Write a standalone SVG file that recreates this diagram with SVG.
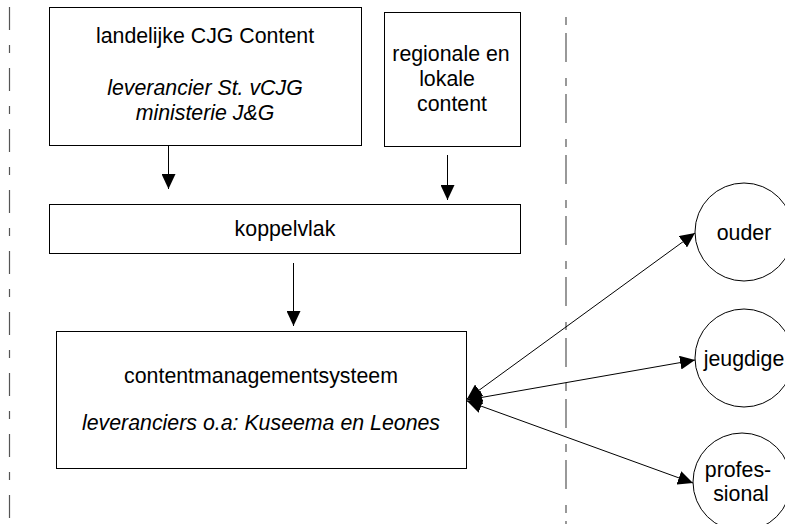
<svg xmlns="http://www.w3.org/2000/svg" width="785" height="524" viewBox="0 0 785 524">
<style>
.box{fill:#fff;stroke:#000;stroke-width:1}
.t{font-family:"Liberation Sans",Arial,sans-serif;font-size:21.33px;fill:#000;text-anchor:middle}
.i{font-style:italic}
.ln{stroke:#000;stroke-width:1;fill:none}
.dash{stroke:#555;stroke-width:1.2;fill:none}
</style>
<defs>
<marker id="ah" markerUnits="userSpaceOnUse" markerWidth="16" markerHeight="14" refX="15" refY="7" orient="auto-start-reverse">
<path d="M0,0 L15,7 L0,14 z" fill="#000"/>
</marker>
</defs>
<rect width="785" height="524" fill="#fff"/>
<g id="separators">
<line class="dash" x1="9.5" y1="7" x2="9.5" y2="524" stroke-dasharray="23 15 8 15"/>
<line class="dash" x1="566" y1="17" x2="566" y2="524" stroke-dasharray="8 8 29 16"/>
</g>
<g id="landelijk">
<rect class="box" x="49.5" y="7.5" width="312" height="138"/>
<text class="t" x="205" y="43">landelijke CJG Content</text>
<text class="t i" x="205" y="95">leverancier St. vCJG</text>
<text class="t i" x="205" y="120">ministerie J&amp;G</text>
</g>
<g id="regionaal">
<rect class="box" x="384.5" y="12.5" width="136" height="134"/>
<text class="t" x="451" y="61">regionale en</text>
<text class="t" x="447" y="86">lokale</text>
<text class="t" x="452" y="111">content</text>
</g>
<g id="koppelvlak">
<rect class="box" x="49.5" y="204.5" width="471" height="49"/>
<text class="t" x="285" y="236">koppelvlak</text>
</g>
<g id="cms">
<rect class="box" x="56.5" y="331.5" width="410" height="137"/>
<text class="t" x="261" y="383">contentmanagementsysteem</text>
<text class="t i" x="261" y="430">leveranciers o.a: Kuseema en Leones</text>
</g>
<g id="ouder">
<circle class="box" cx="744" cy="232" r="49"/>
<text class="t" x="744" y="240">ouder</text>
</g>
<g id="jeugdige">
<circle class="box" cx="744" cy="358" r="49"/>
<text class="t" x="744" y="366">jeugdige</text>
</g>
<g id="professional">
<circle class="box" cx="742" cy="482" r="49"/>
<text class="t" x="738" y="477">profes-</text>
<text class="t" x="741" y="501">sional</text>
</g>
<g id="connectors">
<line class="ln" x1="168.5" y1="145" x2="168.5" y2="189" marker-end="url(#ah)"/>
<line class="ln" x1="447.5" y1="155" x2="447.5" y2="200" marker-end="url(#ah)"/>
<line class="ln" x1="293.5" y1="263" x2="293.5" y2="326" marker-end="url(#ah)"/>
<line class="ln" x1="467" y1="399" x2="695" y2="233" marker-start="url(#ah)" marker-end="url(#ah)"/>
<line class="ln" x1="467" y1="400" x2="695" y2="360" marker-start="url(#ah)" marker-end="url(#ah)"/>
<line class="ln" x1="467" y1="401" x2="693" y2="483" marker-start="url(#ah)" marker-end="url(#ah)"/>
</g>
</svg>
